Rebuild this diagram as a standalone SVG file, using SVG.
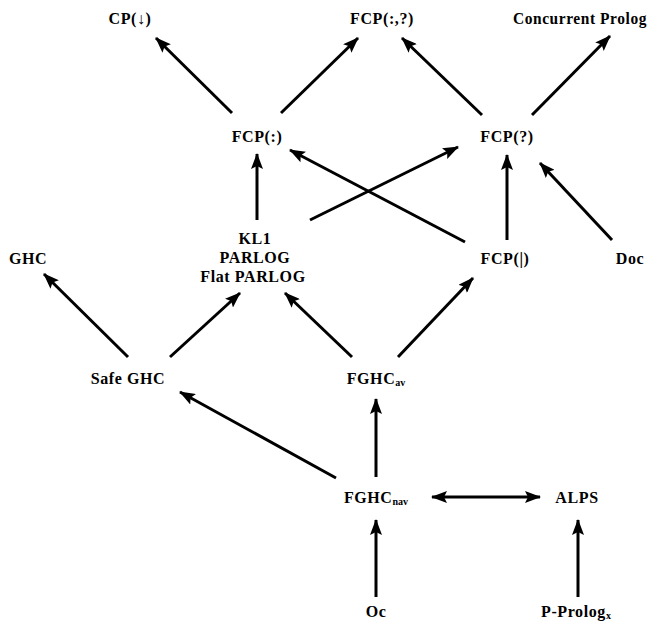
<svg xmlns="http://www.w3.org/2000/svg" width="657" height="623" viewBox="0 0 657 623">
<defs>
<marker id="ah" viewBox="0 0 16 12" refX="15" refY="6" markerWidth="16" markerHeight="12" orient="auto-start-reverse" markerUnits="userSpaceOnUse">
<path d="M0,0 L16,6 L0,12 L3,6 z" fill="#000"/>
</marker>
<style>
text{font-family:"Liberation Serif","DejaVu Serif",serif;font-weight:bold;font-size:16px;letter-spacing:0.6px;fill:#000;text-anchor:middle}
.sub{font-size:10px;letter-spacing:0}
#connectors line{stroke:#000;stroke-width:3;marker-end:url(#ah)}
#connectors line.both{marker-start:url(#ah)}
</style>
</defs>
<rect width="657" height="623" fill="#fff"/>
<g id="connectors">
<line x1="232" y1="113" x2="156" y2="38"/>
<line x1="281" y1="113" x2="358" y2="38"/>
<line x1="482" y1="115" x2="402" y2="38"/>
<line x1="532" y1="115" x2="610" y2="36"/>
<line x1="257" y1="220" x2="257" y2="154"/>
<line x1="310" y1="220" x2="458" y2="147"/>
<line x1="465" y1="242" x2="290" y2="150"/>
<line x1="507" y1="240" x2="507" y2="155"/>
<line x1="612" y1="240" x2="540" y2="163"/>
<line x1="128" y1="357" x2="44" y2="274"/>
<line x1="170" y1="357" x2="240" y2="293"/>
<line x1="352" y1="357" x2="285" y2="293"/>
<line x1="398" y1="357" x2="473" y2="278"/>
<line x1="376" y1="477" x2="376" y2="399"/>
<line x1="336" y1="478" x2="180" y2="392"/>
<line class="both" x1="432" y1="497" x2="540" y2="497"/>
<line x1="376" y1="597" x2="376" y2="520"/>
<line x1="578" y1="597" x2="578" y2="520"/>
</g>
<g id="cp"><text x="130" y="24">CP(↓)</text></g>
<g id="fcp-colon-q"><text x="382" y="24">FCP(:,?)</text></g>
<g id="concurrent-prolog"><text x="580" y="24" textLength="134" lengthAdjust="spacingAndGlyphs">Concurrent Prolog</text></g>
<g id="fcp-colon"><text x="257" y="142">FCP(:)</text></g>
<g id="fcp-q"><text x="507" y="142">FCP(?)</text></g>
<g id="ghc"><text x="28" y="264">GHC</text></g>
<g id="kl1"><text x="255" y="244">KL1</text><text x="255" y="263">PARLOG</text><text x="253" y="282">Flat PARLOG</text></g>
<g id="fcp-bar"><text x="505" y="264">FCP(|)</text></g>
<g id="doc"><text x="630" y="264">Doc</text></g>
<g id="safe-ghc"><text x="128" y="384">Safe GHC</text></g>
<g id="fghc-av"><text x="376" y="384">FGHC<tspan class="sub" dy="2">av</tspan></text></g>
<g id="fghc-nav"><text x="376" y="503">FGHC<tspan class="sub" dy="2">nav</tspan></text></g>
<g id="alps"><text x="577" y="503">ALPS</text></g>
<g id="oc"><text x="376" y="617">Oc</text></g>
<g id="p-prolog"><text x="576" y="617">P-Prolog<tspan class="sub" dy="2">x</tspan></text></g>
</svg>
